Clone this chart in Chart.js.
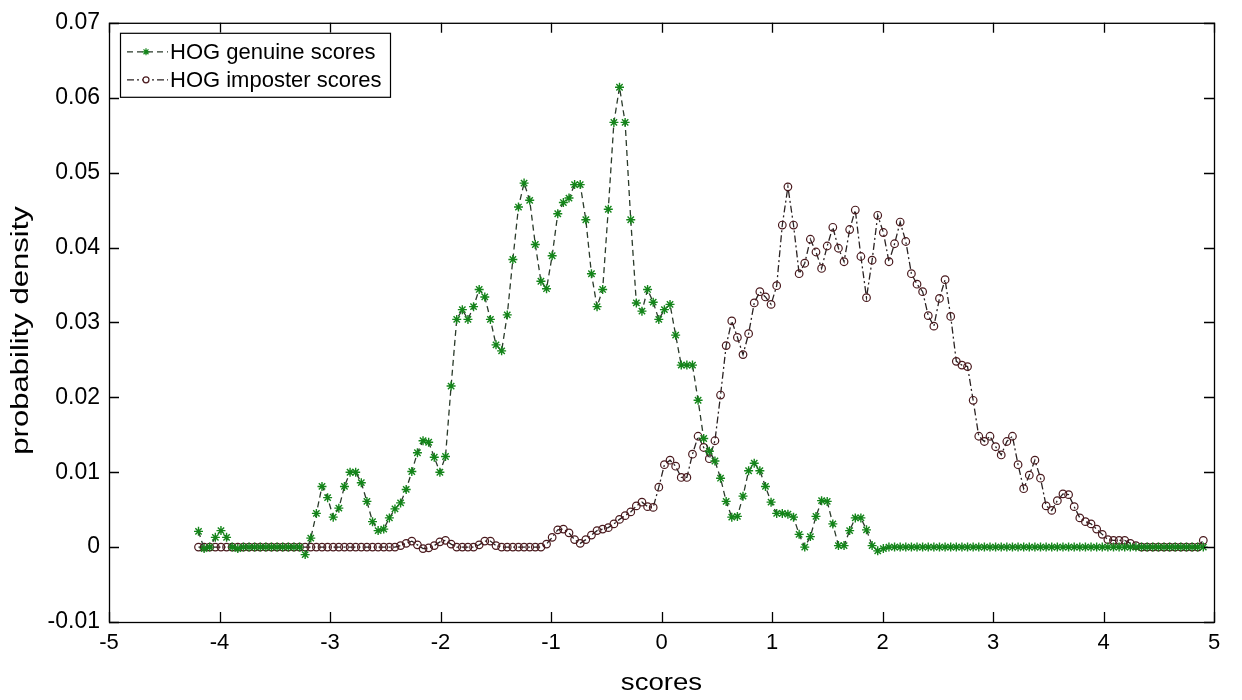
<!DOCTYPE html>
<html>
<head>
<meta charset="utf-8">
<script src="https://cdn.jsdelivr.net/npm/chart.js@4.4.1/dist/chart.umd.min.js"></script>
<style>
  html, body { margin: 0; padding: 0; background: #fff; }
  #wrap { width: 1242px; height: 700px; }
</style>
</head>
<body>
<div id="wrap"><canvas id="chartScores" width="1242" height="700"></canvas></div>
<script>
// histogram bins: first bin centre and bin width
var scoreStart = -4.19;
var scoreStep = 0.0508;

var xTicks = [-5, -4, -3, -2, -1, 0, 1, 2, 3, 4, 5];
var yTicks = [-0.01, 0, 0.01, 0.02, 0.03, 0.04, 0.05, 0.06, 0.07];

var genuineLabel = 'HOG genuine scores';
var imposterLabel = 'HOG imposter scores';
var xTitle = 'scores';
var yTitle = 'probability density';

var genuine = [
  0.0021, -0.0002, 0.0000, 0.0013, 0.0022, 0.0013, 0.0000, -0.0002, 0.0000, 0.0000,
  0.0000, 0.0000, 0.0000, 0.0000, 0.0000, 0.0000, 0.0000, 0.0000, 0.0000, -0.0010,
  0.0012, 0.0045, 0.0081, 0.0066, 0.0040, 0.0052, 0.0081, 0.0100, 0.0100, 0.0086,
  0.0061, 0.0034, 0.0022, 0.0024, 0.0039, 0.0051, 0.0059, 0.0077, 0.0101, 0.0126,
  0.0142, 0.0140, 0.0120, 0.0100, 0.0121, 0.0215, 0.0304, 0.0317, 0.0304, 0.0321,
  0.0344, 0.0334, 0.0304, 0.0270, 0.0262, 0.0310, 0.0384, 0.0454, 0.0486, 0.0463,
  0.0404, 0.0355, 0.0345, 0.0389, 0.0445, 0.0460, 0.0466, 0.0484, 0.0484, 0.0437,
  0.0365, 0.0321, 0.0344, 0.0451, 0.0567, 0.0614, 0.0567, 0.0437, 0.0326, 0.0315,
  0.0344, 0.0327, 0.0304, 0.0317, 0.0324, 0.0283, 0.0243, 0.0243, 0.0243, 0.0196,
  0.0145, 0.0128, 0.0115, 0.0092, 0.0061, 0.0040, 0.0041, 0.0068, 0.0102, 0.0112,
  0.0102, 0.0081, 0.0060, 0.0045, 0.0045, 0.0044, 0.0040, 0.0017, 0.0000, 0.0014,
  0.0041, 0.0062, 0.0061, 0.0031, 0.0002, 0.0002, 0.0022, 0.0039, 0.0039, 0.0023,
  0.0002, -0.0005, -0.0002, 0, 0, 0, 0, 0, 0, 0,
  0, 0, 0, 0, 0, 0, 0, 0, 0, 0,
  0, 0, 0, 0, 0, 0, 0, 0, 0, 0,
  0, 0, 0, 0, 0, 0, 0, 0, 0, 0,
  0, 0, 0, 0, 0, 0, 0, 0, 0, 0,
  0, 0, 0, 0, 0, 0, 0, 0, 0, 0
];

var imposter = [
  0, 0, 0, 0, 0, 0, 0, 0, 0, 0,
  0, 0, 0, 0, 0, 0, 0, 0, 0, 0,
  0, 0, 0, 0, 0, 0, 0, 0, 0, 0,
  0, 0, 0, 0, 0, 0, 0.0002, 0.0005, 0.0008, 0.0003,
  -0.0002, -0.0001, 0.0002, 0.0007, 0.0009, 0.0004, 0, 0, 0, 0,
  0.0003, 0.0008, 0.0008, 0.0002, 0, 0, 0, 0, 0, 0,
  0, 0, 0.0004, 0.0013, 0.0023, 0.0024, 0.0019, 0.0010, 0.0005, 0.0010,
  0.0016, 0.0022, 0.0024, 0.0026, 0.0031, 0.0037, 0.0042, 0.0047, 0.0055, 0.0060,
  0.0054, 0.0053, 0.0080, 0.0110, 0.0116, 0.0108, 0.0093, 0.0093, 0.0124, 0.0148,
  0.0133, 0.0118, 0.0142, 0.0203, 0.0269, 0.0302, 0.0280, 0.0257, 0.0285, 0.0326,
  0.0341, 0.0334, 0.0324, 0.0349, 0.0430, 0.0481, 0.0430, 0.0365, 0.0379, 0.0411,
  0.0394, 0.0372, 0.0402, 0.0427, 0.0399, 0.0381, 0.0424, 0.0450, 0.0388, 0.0333,
  0.0383, 0.0443, 0.0420, 0.0381, 0.0405, 0.0434, 0.0408, 0.0365, 0.0351, 0.0341,
  0.0309, 0.0295, 0.0332, 0.0357, 0.0308, 0.0248, 0.0243, 0.0241, 0.0196, 0.0148,
  0.0141, 0.0148, 0.0134, 0.0123, 0.0141, 0.0148, 0.0110, 0.0078, 0.0096, 0.0116,
  0.0092, 0.0055, 0.0049, 0.0062, 0.0071, 0.0070, 0.0054, 0.0039, 0.0034, 0.0031,
  0.0024, 0.0017, 0.0010, 0.0009, 0.0009, 0.0009, 0.0005, 0.0002, 0, 0,
  0, 0, 0, 0, 0, 0, 0, 0, 0, 0.0009
];

var FONT = 'Arial, "Liberation Sans", sans-serif';

function toPoints(values) {
    var pts = [];
    for (var i = 0; i < values.length; i++) {
        pts.push({ x: scoreStart + i * scoreStep, y: values[i] });
    }
    return pts;
}

// MATLAB style box with inward ticks on all four sides
var boxPlugin = {
    id: 'box',
    afterDraw: function(chart) {
        var ctx = chart.ctx, a = chart.chartArea;
        var xs = chart.scales.x, ys = chart.scales.y;
        ctx.save();
        ctx.strokeStyle = '#000';
        ctx.lineWidth = 1.3;
        ctx.setLineDash([]);
        ctx.strokeRect(a.left + 0.5, a.top + 0.5, a.right - a.left, a.bottom - a.top);
        ctx.beginPath();
        xTicks.forEach(function(v) {
            var px = Math.round(xs.getPixelForValue(v)) + 0.5;
            ctx.moveTo(px, a.bottom); ctx.lineTo(px, a.bottom - 10);
            ctx.moveTo(px, a.top); ctx.lineTo(px, a.top + 10);
        });
        yTicks.forEach(function(v) {
            var py = Math.round(ys.getPixelForValue(v)) + 0.5;
            ctx.moveTo(a.left, py); ctx.lineTo(a.left + 10, py);
            ctx.moveTo(a.right, py); ctx.lineTo(a.right - 10, py);
        });
        ctx.stroke();

        // axis titles (the exported figure has them slightly stretched)
        ctx.fillStyle = '#000';
        ctx.font = '23px ' + FONT;
        ctx.textAlign = 'center';
        ctx.textBaseline = 'middle';
        ctx.save();
        ctx.translate((a.left + a.right) / 2, 684);
        ctx.scale(1.2, 1);
        ctx.fillText(xTitle, 0, 0);
        ctx.restore();
        ctx.save();
        ctx.translate(22, (a.top + a.bottom) / 2 + 8);
        ctx.rotate(-Math.PI / 2);
        ctx.scale(1.35, 1);
        ctx.fillText(yTitle, 0, 0);
        ctx.restore();
        ctx.restore();
    }
};

// legend box in the top left corner of the axes
var legendPlugin = {
    id: 'boxLegend',
    afterDraw: function(chart) {
        var ctx = chart.ctx, a = chart.chartArea;
        var bx = a.left + 11, by = a.top + 10, bw = 270, bh = 64;
        ctx.save();
        ctx.fillStyle = '#fff';
        ctx.fillRect(bx, by, bw, bh);
        ctx.strokeStyle = '#000';
        ctx.lineWidth = 1.2;
        ctx.strokeRect(bx + 0.5, by + 0.5, bw, bh);
        chart.data.datasets.forEach(function(ds, i) {
            var cy = by + 19 + i * 28;
            var mx = bx + 26;
            ctx.strokeStyle = ds.borderColor;
            ctx.lineWidth = ds.borderWidth;
            ctx.setLineDash(ds.borderDash);
            ctx.beginPath();
            ctx.moveTo(bx + 7, cy); ctx.lineTo(bx + 48, cy);
            ctx.stroke();
            ctx.setLineDash([]);
            ctx.strokeStyle = ds.pointBorderColor;
            ctx.lineWidth = 1.2;
            ctx.fillStyle = '#fff';
            ctx.beginPath();
            if (ds.pointStyle === 'circle') {
                ctx.arc(mx, cy, 3, 0, Math.PI * 2);
                ctx.fill();
                ctx.stroke();
            } else {
                for (var k = 0; k < 4; k++) {
                    var ang = k * Math.PI / 4;
                    ctx.moveTo(mx - 3.5 * Math.cos(ang), cy - 3.5 * Math.sin(ang));
                    ctx.lineTo(mx + 3.5 * Math.cos(ang), cy + 3.5 * Math.sin(ang));
                }
                ctx.stroke();
            }
            ctx.fillStyle = '#000';
            ctx.font = '22px ' + FONT;
            ctx.textBaseline = 'middle';
            ctx.fillText(ds.label, bx + 50, cy + 1);
        });
        ctx.restore();
    }
};

var ctx = document.getElementById('chartScores');
var chart = new Chart(ctx, {
    type: 'line',
    data: {
        datasets: [{
            label: genuineLabel,
            data: toPoints(genuine),
            borderColor: '#2a3a2a',
            borderWidth: 1.3,
            borderDash: [6, 4],
            pointStyle: 'star',
            pointRadius: 4.5,
            pointBorderWidth: 1.4,
            pointBorderColor: '#14851a',
            pointBackgroundColor: '#14851a',
            fill: false,
            tension: 0,
            order: 1
        }, {
            label: imposterLabel,
            data: toPoints(imposter),
            borderColor: '#2a2222',
            borderWidth: 1.3,
            borderDash: [7, 3, 2, 3],
            pointStyle: 'circle',
            pointRadius: 3.8,
            pointBorderWidth: 1.2,
            pointBorderColor: '#4a1a1e',
            pointBackgroundColor: 'rgba(255,255,255,0)',
            fill: false,
            tension: 0,
            order: 2
        }]
    },
    options: {
        responsive: false,
        animation: false,
        devicePixelRatio: 1,
        layout: { padding: { left: 0, right: 28, top: 18, bottom: 0 } },
        plugins: {
            legend: { display: false },
            tooltip: { enabled: false }
        },
        scales: {
            x: {
                type: 'linear',
                min: -5,
                max: 5,
                afterFit: function(s) { s.height = 78; },
                afterBuildTicks: function(s) { s.ticks = xTicks.map(function(v) { return { value: v }; }); },
                grid: { display: false, drawTicks: false },
                border: { display: false },
                ticks: {
                    padding: 8,
                    color: '#000',
                    font: { family: FONT, size: 22 },
                    callback: function(v) { return String(v); }
                }
            },
            y: {
                type: 'linear',
                min: -0.01,
                max: 0.07,
                afterFit: function(s) { s.width = 109; },
                afterBuildTicks: function(s) { s.ticks = yTicks.map(function(v) { return { value: v }; }); },
                grid: { display: false, drawTicks: false },
                border: { display: false },
                ticks: {
                    padding: 9,
                    color: '#000',
                    font: { family: FONT, size: 23 },
                    callback: function(v) { return String(Math.round(v * 100) / 100); }
                }
            }
        }
    },
    plugins: [boxPlugin, legendPlugin]
});
</script>
</body>
</html>
